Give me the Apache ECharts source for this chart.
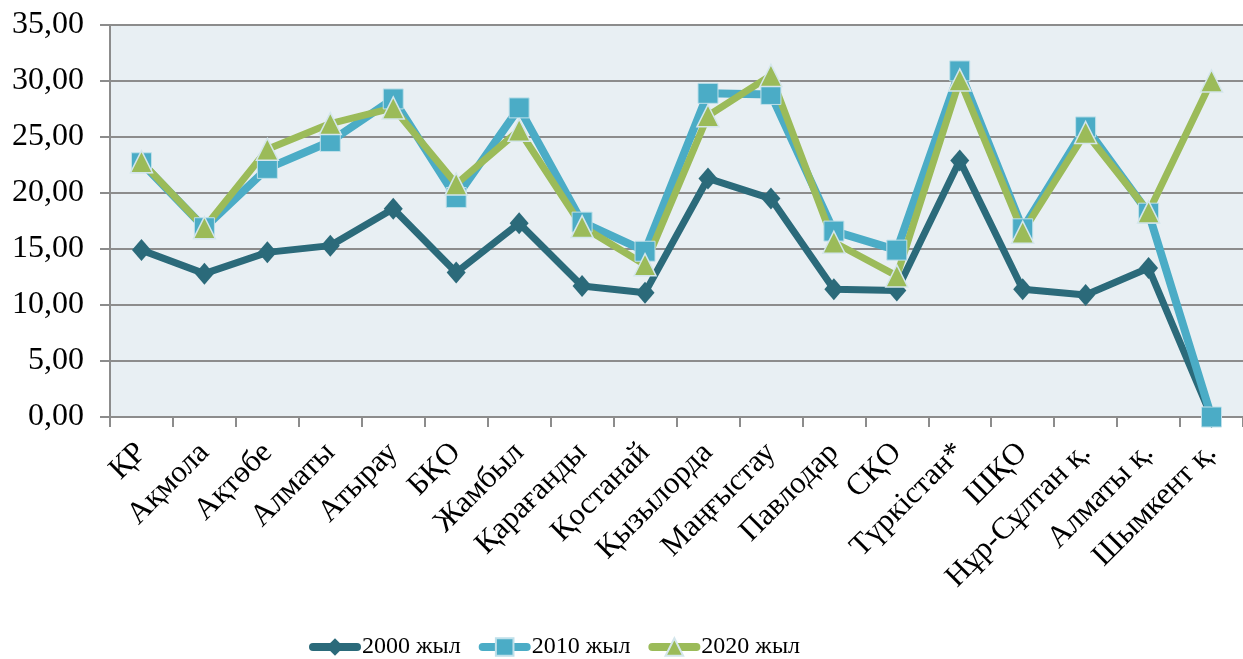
<!DOCTYPE html>
<html>
<head>
    <meta charset="UTF-8">
    <title>chart</title>
    <script src="https://cdn.jsdelivr.net/npm/echarts@6/dist/echarts.min.js"></script>
    <style>
        html, body { margin: 0; padding: 0; background: #fff; }
    </style>
</head>
<body>
<div id="chart" style="width: 1243px;height:659px;"></div>
<script>
    // категориялар
    var regions = ['ҚР', 'Ақмола', 'Ақтөбе', 'Алматы', 'Атырау', 'БҚО', 'Жамбыл', 'Қарағанды', 'Қостанай',
        'Қызылорда', 'Маңғыстау', 'Павлодар', 'СҚО', 'Түркістан*', 'ШҚО', 'Нұр-Сұлтан қ.', 'Алматы қ.', 'Шымкент қ.'];
    var seriesNames = ['2000 жыл', '2010 жыл', '2020 жыл'];
    var y2000 = [14.9, 12.8, 14.7, 15.3, 18.6, 12.9, 17.3, 11.7, 11.1, 21.3, 19.5, 11.4, 11.3, 22.9, 11.4, 10.9, 13.3, 0];
    var y2010 = [22.7, 16.9, 22.2, 24.6, 28.4, 19.6, 27.6, 17.4, 14.8, 28.9, 28.8, 16.6, 14.9, 30.9, 16.8, 25.9, 18.2, 0];
    var y2020 = [22.8, 16.9, 23.9, 26.2, 27.6, 20.8, 25.6, 17.0, 13.6, 26.9, 30.5, 15.6, 12.6, 30.1, 16.5, 25.4, 18.3, 30.0];
    var yMin = 0, yMax = 35, yStep = 5;

    var chart = echarts.init(document.getElementById('chart'));
    var font = 'Liberation Serif';

    chart.setOption({
        animation: false,
        grid: {
            left: 110,
            right: -6,
            top: 25,
            bottom: 242,
            show: true,
            backgroundColor: '#e8eff3',
            borderWidth: 0
        },
        legend: {
            top: 630,
            left: 304,
            itemWidth: 44,
            itemHeight: 22,
            itemGap: 18,
            lineStyle: { width: 8, cap: 'round' },
            textStyle: { fontFamily: font, fontSize: 24, color: '#000' },
            data: seriesNames
        },
        xAxis: {
            type: 'category',
            data: regions,
            axisLine: { lineStyle: { color: '#8c8c8c', width: 2 } },
            axisTick: { show: true, length: 10, lineStyle: { color: '#8c8c8c', width: 2 } },
            axisLabel: {
                rotate: 45,
                interval: 0,
                margin: 31,
                fontFamily: font,
                fontSize: 31,
                color: '#000'
            },
            splitLine: { show: false }
        },
        yAxis: {
            type: 'value',
            min: yMin,
            max: yMax,
            interval: yStep,
            axisLine: { show: true, lineStyle: { color: '#8c8c8c', width: 2 } },
            axisTick: { show: true, length: 10, lineStyle: { color: '#8c8c8c', width: 2 } },
            axisLabel: {
                margin: 26,
                fontFamily: font,
                fontSize: 32,
                color: '#000',
                formatter: function (v) { return v.toFixed(2).replace('.', ','); }
            },
            splitLine: { lineStyle: { color: '#8c8c8c', width: 2 } }
        },
        series: [
            {
                name: seriesNames[0],
                type: 'line',
                data: y2000,
                symbol: 'diamond',
                symbolSize: [19, 22],
                lineStyle: { color: '#2b6a7a', width: 7 },
                itemStyle: { color: '#2b6a7a' }
            },
            {
                name: seriesNames[1],
                type: 'line',
                data: y2010,
                symbol: 'rect',
                symbolSize: 20,
                lineStyle: { color: '#4bacc6', width: 8 },
                itemStyle: { color: '#4bacc6', borderColor: '#bfe0ea', borderWidth: 1 }
            },
            {
                name: seriesNames[2],
                type: 'line',
                data: y2020,
                symbol: 'triangle',
                symbolSize: 22,
                lineStyle: { color: '#9bbb59', width: 7 },
                itemStyle: { color: '#9bbb59', borderColor: '#d4e6ec', borderWidth: 1.5 }
            }
        ]
    });
</script>
</body>
</html>
